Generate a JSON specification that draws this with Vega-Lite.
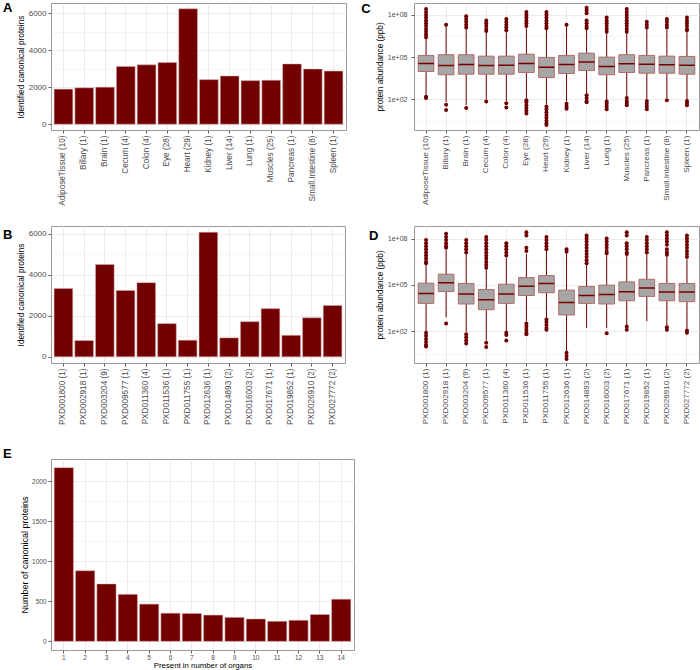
{
  "$schema": "https://vega.github.io/schema/vega-lite/v6.json",
  "padding": {"left": 2, "top": 1, "right": 0, "bottom": 0},
  "background": "white",
  "columns": 2,
  "align": "each",
  "bounds": "flush",
  "spacing": {"row": 96, "column": 60},
  "datasets": {
    "barA": [
      {"tissue": "AdiposeTissue (10)", "proteins": 1900},
      {"tissue": "Billary (1)", "proteins": 1970},
      {"tissue": "Brain (1)", "proteins": 2005},
      {"tissue": "Cecum (4)", "proteins": 3125},
      {"tissue": "Colon (4)", "proteins": 3215},
      {"tissue": "Eye (28)", "proteins": 3335},
      {"tissue": "Heart (29)", "proteins": 6250},
      {"tissue": "Kidney (1)", "proteins": 2415},
      {"tissue": "Liver (14)", "proteins": 2610},
      {"tissue": "Lung (1)", "proteins": 2360},
      {"tissue": "Muscles (25)", "proteins": 2380},
      {"tissue": "Pancreas (1)", "proteins": 3265},
      {"tissue": "Small.Intestine (8)", "proteins": 2985},
      {"tissue": "Spleen (1)", "proteins": 2875}
    ],
    "barB": [
      {"dataset": "PXD001800 (1)", "proteins": 3325},
      {"dataset": "PXD002918 (1)", "proteins": 790},
      {"dataset": "PXD003204 (9)", "proteins": 4495},
      {"dataset": "PXD009577 (1)", "proteins": 3230},
      {"dataset": "PXD011360 (4)", "proteins": 3610},
      {"dataset": "PXD011536 (1)", "proteins": 1615},
      {"dataset": "PXD011755 (1)", "proteins": 810},
      {"dataset": "PXD012636 (1)", "proteins": 6065},
      {"dataset": "PXD014893 (2)", "proteins": 920},
      {"dataset": "PXD016003 (2)", "proteins": 1710},
      {"dataset": "PXD017671 (1)", "proteins": 2345},
      {"dataset": "PXD019852 (1)", "proteins": 1045},
      {"dataset": "PXD026910 (2)", "proteins": 1900},
      {"dataset": "PXD027772 (2)", "proteins": 2500}
    ],
    "barE": [
      {"organs": 1, "proteins": 2170},
      {"organs": 2, "proteins": 882},
      {"organs": 3, "proteins": 717},
      {"organs": 4, "proteins": 587},
      {"organs": 5, "proteins": 465},
      {"organs": 6, "proteins": 352},
      {"organs": 7, "proteins": 348},
      {"organs": 8, "proteins": 328},
      {"organs": 9, "proteins": 299},
      {"organs": 10, "proteins": 279},
      {"organs": 11, "proteins": 250},
      {"organs": 12, "proteins": 262},
      {"organs": 13, "proteins": 335},
      {"organs": 14, "proteins": 526}
    ],
    "boxC": [
      {"tissue": "AdiposeTissue (10)", "lower": 214, "q1": 9550, "median": 35500, "q3": 132000, "upper": 2000000},
      {"tissue": "Billary (1)", "lower": 65, "q1": 5620, "median": 25700, "q3": 148000, "upper": 15800000},
      {"tissue": "Brain (1)", "lower": 39.8, "q1": 6170, "median": 30200, "q3": 148000, "upper": 10000000},
      {"tissue": "Cecum (4)", "lower": 100, "q1": 6170, "median": 25700, "q3": 117000, "upper": 5620000},
      {"tissue": "Colon (4)", "lower": 79.4, "q1": 6170, "median": 26900, "q3": 117000, "upper": 6310000},
      {"tissue": "Eye (28)", "lower": 126, "q1": 8130, "median": 35500, "q3": 162000, "upper": 11200000},
      {"tissue": "Heart (29)", "lower": 44.7, "q1": 3630, "median": 19500, "q3": 95500, "upper": 8910000},
      {"tissue": "Kidney (1)", "lower": 70.8, "q1": 6920, "median": 30200, "q3": 132000, "upper": 15800000},
      {"tissue": "Liver (14)", "lower": 251, "q1": 11200, "median": 44700, "q3": 191000, "upper": 8910000},
      {"tissue": "Lung (1)", "lower": 89.1, "q1": 5620, "median": 21900, "q3": 100000, "upper": 5010000},
      {"tissue": "Muscles (25)", "lower": 158, "q1": 8130, "median": 33900, "q3": 148000, "upper": 5010000},
      {"tissue": "Pancreas (1)", "lower": 110, "q1": 7240, "median": 31600, "q3": 132000, "upper": 10000000},
      {"tissue": "Small.Intestine (8)", "lower": 126, "q1": 7240, "median": 28800, "q3": 117000, "upper": 8910000},
      {"tissue": "Spleen (1)", "lower": 100, "q1": 6170, "median": 26900, "q3": 112000, "upper": 6310000}
    ],
    "outC": [
      {"tissue": "AdiposeTissue (10)", "ppb": 2.51e8}, {"tissue": "AdiposeTissue (10)", "ppb": 1.58e8}, {"tissue": "AdiposeTissue (10)", "ppb": 1.0e8}, {"tissue": "AdiposeTissue (10)", "ppb": 6.31e7}, {"tissue": "AdiposeTissue (10)", "ppb": 3.98e7}, {"tissue": "AdiposeTissue (10)", "ppb": 2.51e7}, {"tissue": "AdiposeTissue (10)", "ppb": 1.58e7}, {"tissue": "AdiposeTissue (10)", "ppb": 1.0e7}, {"tissue": "AdiposeTissue (10)", "ppb": 6.31e6}, {"tissue": "AdiposeTissue (10)", "ppb": 3.98e6}, {"tissue": "AdiposeTissue (10)", "ppb": 2.51e6}, {"tissue": "AdiposeTissue (10)", "ppb": 158}, {"tissue": "AdiposeTissue (10)", "ppb": 126},
      {"tissue": "Billary (1)", "ppb": 2.0e7}, {"tissue": "Billary (1)", "ppb": 41.7}, {"tissue": "Billary (1)", "ppb": 18.2},
      {"tissue": "Brain (1)", "ppb": 7.94e7}, {"tissue": "Brain (1)", "ppb": 5.01e7}, {"tissue": "Brain (1)", "ppb": 3.16e7}, {"tissue": "Brain (1)", "ppb": 2.0e7}, {"tissue": "Brain (1)", "ppb": 1.26e7}, {"tissue": "Brain (1)", "ppb": 25.1},
      {"tissue": "Cecum (4)", "ppb": 3.98e7}, {"tissue": "Cecum (4)", "ppb": 2.51e7}, {"tissue": "Cecum (4)", "ppb": 1.58e7}, {"tissue": "Cecum (4)", "ppb": 1.0e7}, {"tissue": "Cecum (4)", "ppb": 7.08e6}, {"tissue": "Cecum (4)", "ppb": 70.8},
      {"tissue": "Colon (4)", "ppb": 5.01e7}, {"tissue": "Colon (4)", "ppb": 3.16e7}, {"tissue": "Colon (4)", "ppb": 2.0e7}, {"tissue": "Colon (4)", "ppb": 1.26e7}, {"tissue": "Colon (4)", "ppb": 7.94e6}, {"tissue": "Colon (4)", "ppb": 55}, {"tissue": "Colon (4)", "ppb": 26.9},
      {"tissue": "Eye (28)", "ppb": 1.58e8}, {"tissue": "Eye (28)", "ppb": 1.0e8}, {"tissue": "Eye (28)", "ppb": 6.31e7}, {"tissue": "Eye (28)", "ppb": 3.98e7}, {"tissue": "Eye (28)", "ppb": 2.51e7}, {"tissue": "Eye (28)", "ppb": 1.58e7}, {"tissue": "Eye (28)", "ppb": 89.1}, {"tissue": "Eye (28)", "ppb": 63.1}, {"tissue": "Eye (28)", "ppb": 39.8}, {"tissue": "Eye (28)", "ppb": 25.1}, {"tissue": "Eye (28)", "ppb": 15.8}, {"tissue": "Eye (28)", "ppb": 10},
      {"tissue": "Heart (29)", "ppb": 1.58e8}, {"tissue": "Heart (29)", "ppb": 1.0e8}, {"tissue": "Heart (29)", "ppb": 6.31e7}, {"tissue": "Heart (29)", "ppb": 3.98e7}, {"tissue": "Heart (29)", "ppb": 2.51e7}, {"tissue": "Heart (29)", "ppb": 1.58e7}, {"tissue": "Heart (29)", "ppb": 1.12e7}, {"tissue": "Heart (29)", "ppb": 31.6}, {"tissue": "Heart (29)", "ppb": 20}, {"tissue": "Heart (29)", "ppb": 12.6}, {"tissue": "Heart (29)", "ppb": 7.94}, {"tissue": "Heart (29)", "ppb": 5.01}, {"tissue": "Heart (29)", "ppb": 3.16}, {"tissue": "Heart (29)", "ppb": 2.0}, {"tissue": "Heart (29)", "ppb": 1.58},
      {"tissue": "Kidney (1)", "ppb": 2.0e7}, {"tissue": "Kidney (1)", "ppb": 50.1}, {"tissue": "Kidney (1)", "ppb": 31.6}, {"tissue": "Kidney (1)", "ppb": 22.4},
      {"tissue": "Liver (14)", "ppb": 3.16e8}, {"tissue": "Liver (14)", "ppb": 2.0e8}, {"tissue": "Liver (14)", "ppb": 1.26e8}, {"tissue": "Liver (14)", "ppb": 3.98e7}, {"tissue": "Liver (14)", "ppb": 2.51e7}, {"tissue": "Liver (14)", "ppb": 1.58e7}, {"tissue": "Liver (14)", "ppb": 1.12e7}, {"tissue": "Liver (14)", "ppb": 200}, {"tissue": "Liver (14)", "ppb": 126}, {"tissue": "Liver (14)", "ppb": 79.4}, {"tissue": "Liver (14)", "ppb": 63.1},
      {"tissue": "Lung (1)", "ppb": 6.31e7}, {"tissue": "Lung (1)", "ppb": 3.98e7}, {"tissue": "Lung (1)", "ppb": 2.51e7}, {"tissue": "Lung (1)", "ppb": 1.58e7}, {"tissue": "Lung (1)", "ppb": 1.0e7}, {"tissue": "Lung (1)", "ppb": 6.31e6}, {"tissue": "Lung (1)", "ppb": 70.8}, {"tissue": "Lung (1)", "ppb": 50.1}, {"tissue": "Lung (1)", "ppb": 31.6}, {"tissue": "Lung (1)", "ppb": 20},
      {"tissue": "Muscles (25)", "ppb": 2.51e8}, {"tissue": "Muscles (25)", "ppb": 1.58e8}, {"tissue": "Muscles (25)", "ppb": 1.0e8}, {"tissue": "Muscles (25)", "ppb": 6.31e7}, {"tissue": "Muscles (25)", "ppb": 3.98e7}, {"tissue": "Muscles (25)", "ppb": 2.51e7}, {"tissue": "Muscles (25)", "ppb": 1.58e7}, {"tissue": "Muscles (25)", "ppb": 1.0e7}, {"tissue": "Muscles (25)", "ppb": 6.31e6}, {"tissue": "Muscles (25)", "ppb": 126}, {"tissue": "Muscles (25)", "ppb": 79.4}, {"tissue": "Muscles (25)", "ppb": 56.2}, {"tissue": "Muscles (25)", "ppb": 39.8},
      {"tissue": "Pancreas (1)", "ppb": 3.16e7}, {"tissue": "Pancreas (1)", "ppb": 2.0e7}, {"tissue": "Pancreas (1)", "ppb": 1.26e7}, {"tissue": "Pancreas (1)", "ppb": 79.4}, {"tissue": "Pancreas (1)", "ppb": 50.1}, {"tissue": "Pancreas (1)", "ppb": 31.6}, {"tissue": "Pancreas (1)", "ppb": 20},
      {"tissue": "Small.Intestine (8)", "ppb": 5.01e7}, {"tissue": "Small.Intestine (8)", "ppb": 3.16e7}, {"tissue": "Small.Intestine (8)", "ppb": 2.0e7}, {"tissue": "Small.Intestine (8)", "ppb": 1.26e7}, {"tissue": "Small.Intestine (8)", "ppb": 89.1},
      {"tissue": "Spleen (1)", "ppb": 6.31e7}, {"tissue": "Spleen (1)", "ppb": 3.98e7}, {"tissue": "Spleen (1)", "ppb": 2.51e7}, {"tissue": "Spleen (1)", "ppb": 1.58e7}, {"tissue": "Spleen (1)", "ppb": 1.0e7}, {"tissue": "Spleen (1)", "ppb": 7.94e6}, {"tissue": "Spleen (1)", "ppb": 79.4}, {"tissue": "Spleen (1)", "ppb": 56.2}, {"tissue": "Spleen (1)", "ppb": 39.8}
    ],
    "boxD": [
      {"dataset": "PXD001800 (1)", "lower": 100, "q1": 6310, "median": 27500, "q3": 129000, "upper": 2000000},
      {"dataset": "PXD002918 (1)", "lower": 794, "q1": 37200, "median": 135000, "q3": 490000, "upper": 17800000},
      {"dataset": "PXD003204 (9)", "lower": 89.1, "q1": 5750, "median": 25100, "q3": 123000, "upper": 9330000},
      {"dataset": "PXD009577 (1)", "lower": 25.1, "q1": 2450, "median": 11000, "q3": 50100, "upper": 1000000},
      {"dataset": "PXD011360 (4)", "lower": 100, "q1": 6310, "median": 25100, "q3": 110000, "upper": 5750000},
      {"dataset": "PXD011536 (1)", "lower": 437, "q1": 20400, "median": 81300, "q3": 295000, "upper": 10000000},
      {"dataset": "PXD011755 (1)", "lower": 724, "q1": 30900, "median": 123000, "q3": 398000, "upper": 15500000},
      {"dataset": "PXD012636 (1)", "lower": 5.13, "q1": 1120, "median": 7240, "q3": 45700, "upper": 10000000},
      {"dataset": "PXD014893 (2)", "lower": 162, "q1": 6310, "median": 20400, "q3": 77600, "upper": 2000000},
      {"dataset": "PXD016003 (2)", "lower": 162, "q1": 5750, "median": 24000, "q3": 95500, "upper": 8510000},
      {"dataset": "PXD017671 (1)", "lower": 245, "q1": 9330, "median": 35500, "q3": 155000, "upper": 8510000},
      {"dataset": "PXD019852 (1)", "lower": 437, "q1": 17800, "median": 61700, "q3": 229000, "upper": 9330000},
      {"dataset": "PXD026910 (2)", "lower": 209, "q1": 9330, "median": 33900, "q3": 123000, "upper": 7080000},
      {"dataset": "PXD027772 (2)", "lower": 148, "q1": 8130, "median": 33900, "q3": 123000, "upper": 4470000}
    ],
    "outD": [
      {"dataset": "PXD001800 (1)", "ppb": 7.94e7}, {"dataset": "PXD001800 (1)", "ppb": 5.01e7}, {"dataset": "PXD001800 (1)", "ppb": 3.16e7}, {"dataset": "PXD001800 (1)", "ppb": 2.0e7}, {"dataset": "PXD001800 (1)", "ppb": 1.26e7}, {"dataset": "PXD001800 (1)", "ppb": 7.94e6}, {"dataset": "PXD001800 (1)", "ppb": 5.01e6}, {"dataset": "PXD001800 (1)", "ppb": 3.16e6}, {"dataset": "PXD001800 (1)", "ppb": 2.51e6}, {"dataset": "PXD001800 (1)", "ppb": 79.4}, {"dataset": "PXD001800 (1)", "ppb": 50.1}, {"dataset": "PXD001800 (1)", "ppb": 31.6}, {"dataset": "PXD001800 (1)", "ppb": 20}, {"dataset": "PXD001800 (1)", "ppb": 12.6}, {"dataset": "PXD001800 (1)", "ppb": 10},
      {"dataset": "PXD002918 (1)", "ppb": 2.0e8}, {"dataset": "PXD002918 (1)", "ppb": 1.26e8}, {"dataset": "PXD002918 (1)", "ppb": 7.94e7}, {"dataset": "PXD002918 (1)", "ppb": 5.01e7}, {"dataset": "PXD002918 (1)", "ppb": 3.16e7}, {"dataset": "PXD002918 (1)", "ppb": 2.51e7}, {"dataset": "PXD002918 (1)", "ppb": 316},
      {"dataset": "PXD003204 (9)", "ppb": 7.94e7}, {"dataset": "PXD003204 (9)", "ppb": 5.01e7}, {"dataset": "PXD003204 (9)", "ppb": 3.16e7}, {"dataset": "PXD003204 (9)", "ppb": 2.0e7}, {"dataset": "PXD003204 (9)", "ppb": 1.26e7}, {"dataset": "PXD003204 (9)", "ppb": 63.1}, {"dataset": "PXD003204 (9)", "ppb": 39.8}, {"dataset": "PXD003204 (9)", "ppb": 25.1}, {"dataset": "PXD003204 (9)", "ppb": 15.8},
      {"dataset": "PXD009577 (1)", "ppb": 1.26e8}, {"dataset": "PXD009577 (1)", "ppb": 7.94e7}, {"dataset": "PXD009577 (1)", "ppb": 5.01e7}, {"dataset": "PXD009577 (1)", "ppb": 3.16e7}, {"dataset": "PXD009577 (1)", "ppb": 2.0e7}, {"dataset": "PXD009577 (1)", "ppb": 1.26e7}, {"dataset": "PXD009577 (1)", "ppb": 7.94e6}, {"dataset": "PXD009577 (1)", "ppb": 5.01e6}, {"dataset": "PXD009577 (1)", "ppb": 3.16e6}, {"dataset": "PXD009577 (1)", "ppb": 2.0e6}, {"dataset": "PXD009577 (1)", "ppb": 1.26e6}, {"dataset": "PXD009577 (1)", "ppb": 17.8}, {"dataset": "PXD009577 (1)", "ppb": 9.33},
      {"dataset": "PXD011360 (4)", "ppb": 5.01e7}, {"dataset": "PXD011360 (4)", "ppb": 3.16e7}, {"dataset": "PXD011360 (4)", "ppb": 2.0e7}, {"dataset": "PXD011360 (4)", "ppb": 1.26e7}, {"dataset": "PXD011360 (4)", "ppb": 7.94e6}, {"dataset": "PXD011360 (4)", "ppb": 79.4}, {"dataset": "PXD011360 (4)", "ppb": 56.2}, {"dataset": "PXD011360 (4)", "ppb": 25.1},
      {"dataset": "PXD011536 (1)", "ppb": 2.51e8}, {"dataset": "PXD011536 (1)", "ppb": 1.58e8}, {"dataset": "PXD011536 (1)", "ppb": 2.51e7}, {"dataset": "PXD011536 (1)", "ppb": 1.58e7}, {"dataset": "PXD011536 (1)", "ppb": 316}, {"dataset": "PXD011536 (1)", "ppb": 200}, {"dataset": "PXD011536 (1)", "ppb": 126}, {"dataset": "PXD011536 (1)", "ppb": 79.4}, {"dataset": "PXD011536 (1)", "ppb": 63.1},
      {"dataset": "PXD011755 (1)", "ppb": 1.26e8}, {"dataset": "PXD011755 (1)", "ppb": 7.94e7}, {"dataset": "PXD011755 (1)", "ppb": 5.01e7}, {"dataset": "PXD011755 (1)", "ppb": 3.16e7}, {"dataset": "PXD011755 (1)", "ppb": 2.0e7}, {"dataset": "PXD011755 (1)", "ppb": 562}, {"dataset": "PXD011755 (1)", "ppb": 398}, {"dataset": "PXD011755 (1)", "ppb": 251}, {"dataset": "PXD011755 (1)", "ppb": 158}, {"dataset": "PXD011755 (1)", "ppb": 126},
      {"dataset": "PXD012636 (1)", "ppb": 2.0e7}, {"dataset": "PXD012636 (1)", "ppb": 1.41e7}, {"dataset": "PXD012636 (1)", "ppb": 3.98}, {"dataset": "PXD012636 (1)", "ppb": 2.51}, {"dataset": "PXD012636 (1)", "ppb": 1.58},
      {"dataset": "PXD014893 (2)", "ppb": 1.58e8}, {"dataset": "PXD014893 (2)", "ppb": 1.0e8}, {"dataset": "PXD014893 (2)", "ppb": 6.31e7}, {"dataset": "PXD014893 (2)", "ppb": 3.98e7}, {"dataset": "PXD014893 (2)", "ppb": 2.51e7}, {"dataset": "PXD014893 (2)", "ppb": 1.58e7}, {"dataset": "PXD014893 (2)", "ppb": 1.0e7}, {"dataset": "PXD014893 (2)", "ppb": 6.31e6}, {"dataset": "PXD014893 (2)", "ppb": 3.98e6}, {"dataset": "PXD014893 (2)", "ppb": 2.51e6},
      {"dataset": "PXD016003 (2)", "ppb": 1.0e8}, {"dataset": "PXD016003 (2)", "ppb": 6.31e7}, {"dataset": "PXD016003 (2)", "ppb": 3.98e7}, {"dataset": "PXD016003 (2)", "ppb": 2.51e7}, {"dataset": "PXD016003 (2)", "ppb": 1.58e7}, {"dataset": "PXD016003 (2)", "ppb": 1.12e7}, {"dataset": "PXD016003 (2)", "ppb": 74.1},
      {"dataset": "PXD017671 (1)", "ppb": 2.51e8}, {"dataset": "PXD017671 (1)", "ppb": 1.58e8}, {"dataset": "PXD017671 (1)", "ppb": 5.01e7}, {"dataset": "PXD017671 (1)", "ppb": 3.16e7}, {"dataset": "PXD017671 (1)", "ppb": 2.0e7}, {"dataset": "PXD017671 (1)", "ppb": 1.26e7}, {"dataset": "PXD017671 (1)", "ppb": 1.0e7}, {"dataset": "PXD017671 (1)", "ppb": 200}, {"dataset": "PXD017671 (1)", "ppb": 126},
      {"dataset": "PXD019852 (1)", "ppb": 1.26e8}, {"dataset": "PXD019852 (1)", "ppb": 7.94e7}, {"dataset": "PXD019852 (1)", "ppb": 5.01e7}, {"dataset": "PXD019852 (1)", "ppb": 3.16e7}, {"dataset": "PXD019852 (1)", "ppb": 2.0e7}, {"dataset": "PXD019852 (1)", "ppb": 1.26e7},
      {"dataset": "PXD026910 (2)", "ppb": 2.51e8}, {"dataset": "PXD026910 (2)", "ppb": 1.58e8}, {"dataset": "PXD026910 (2)", "ppb": 1.0e8}, {"dataset": "PXD026910 (2)", "ppb": 6.31e7}, {"dataset": "PXD026910 (2)", "ppb": 3.98e7}, {"dataset": "PXD026910 (2)", "ppb": 2.0e7}, {"dataset": "PXD026910 (2)", "ppb": 1.26e7}, {"dataset": "PXD026910 (2)", "ppb": 8.91e6}, {"dataset": "PXD026910 (2)", "ppb": 178}, {"dataset": "PXD026910 (2)", "ppb": 126},
      {"dataset": "PXD027772 (2)", "ppb": 1.58e8}, {"dataset": "PXD027772 (2)", "ppb": 1.0e8}, {"dataset": "PXD027772 (2)", "ppb": 6.31e7}, {"dataset": "PXD027772 (2)", "ppb": 3.98e7}, {"dataset": "PXD027772 (2)", "ppb": 2.51e7}, {"dataset": "PXD027772 (2)", "ppb": 1.58e7}, {"dataset": "PXD027772 (2)", "ppb": 1.0e7}, {"dataset": "PXD027772 (2)", "ppb": 6.31e6}, {"dataset": "PXD027772 (2)", "ppb": 112}, {"dataset": "PXD027772 (2)", "ppb": 79.4}
    ]
  },
  "concat": [
    {
      "width": 295, "height": 127,
      "title": {"text": "A", "dx": -48, "dy": 16},
      "data": {"name": "barA"},
      "mark": {"type": "bar", "fill": "#730000", "stroke": "#d8b0b0", "strokeWidth": 0.5},
      "encoding": {
        "x": {"field": "tissue", "type": "nominal", "scale": {"paddingInner": 0.1, "paddingOuter": 0.15},
              "axis": {"title": null, "labelAngle": 270, "labelAlign": "right", "labelBaseline": "middle", "labelFontSize": 8.2, "bandPosition": 0.5, "gridWidth": 1}},
        "y": {"field": "proteins", "type": "quantitative", "scale": {"domain": [-312.5, 6562.5], "nice": false, "zero": false},
              "axis": {"title": "Identified canonical proteins", "values": [0, 1000, 2000, 3000, 4000, 5000, 6000], "format": "d",
                       "labelExpr": "datum.value % 2000 == 0 ? datum.label : ''",
                       "tickOpacity": {"condition": {"test": "datum.value % 2000 != 0", "value": 0}, "value": 1},
                       "gridWidth": {"condition": {"test": "datum.value % 2000 != 0", "value": 0.5}, "value": 1},
                       "labelFontSize": 8, "titleFontSize": 8.3, "titlePadding": 3}},
        "y2": {"datum": 0}
      }
    },
    {
      "width": 285, "height": 127,
      "title": {"text": "C", "dx": -52.7, "dy": 17.3},
      "layer": [
        {
          "data": {"name": "boxC"},
          "mark": {"type": "rule", "color": "#6e0000", "strokeWidth": 1},
          "encoding": {
            "x": {"field": "tissue", "type": "nominal", "scale": {"paddingInner": 0, "paddingOuter": 0.1},
                  "axis": {"title": null, "labelAngle": 270, "labelAlign": "right", "labelBaseline": "middle", "labelFontSize": 8.1, "bandPosition": 0.5, "gridWidth": 1}},
            "y": {"field": "lower", "type": "quantitative", "scale": {"type": "log", "domain": [0.69, 6.8e8], "nice": false},
                  "axis": {"title": "protein abundance (ppb)", "values": [3.1623, 100, 3162.3, 100000, 3162278, 100000000],
                           "labelExpr": "datum.value == 100 ? '1e+02' : datum.value == 100000 ? '1e+05' : datum.value == 100000000 ? '1e+08' : ''",
                           "tickOpacity": {"condition": {"test": "indexof([100, 100000, 100000000], datum.value) < 0", "value": 0}, "value": 1},
                           "gridWidth": {"condition": {"test": "indexof([100, 100000, 100000000], datum.value) < 0", "value": 0.5}, "value": 1},
                           "labelFontSize": 7, "titleFontSize": 8.2, "titlePadding": 3, "labelPadding": 4}},
            "y2": {"field": "upper"}
          }
        },
        {
          "data": {"name": "boxC"},
          "mark": {"type": "bar", "width": {"band": 0.78}, "fill": "#a6a6a6", "stroke": "#b26a6a", "strokeWidth": 1},
          "encoding": {
            "x": {"field": "tissue", "type": "nominal"},
            "y": {"field": "q1", "type": "quantitative"},
            "y2": {"field": "q3"}
          }
        },
        {
          "data": {"name": "boxC"},
          "mark": {"type": "bar", "width": {"band": 0.78}, "fill": "#7a0000", "stroke": "#7a0000", "strokeWidth": 1.5},
          "encoding": {
            "x": {"field": "tissue", "type": "nominal"},
            "y": {"field": "median", "type": "quantitative"},
            "y2": {"field": "median"}
          }
        },
        {
          "data": {"name": "outC"},
          "mark": {"type": "circle", "size": 16, "color": "#6e0000", "opacity": 1},
          "encoding": {
            "x": {"field": "tissue", "type": "nominal"},
            "y": {"field": "ppb", "type": "quantitative"}
          }
        }
      ]
    },
    {
      "width": 294, "height": 137,
      "title": {"text": "B", "dx": -48, "dy": 20},
      "data": {"name": "barB"},
      "mark": {"type": "bar", "fill": "#730000", "stroke": "#d8b0b0", "strokeWidth": 0.5},
      "encoding": {
        "x": {"field": "dataset", "type": "nominal", "scale": {"paddingInner": 0.1, "paddingOuter": 0.15},
              "axis": {"title": null, "labelAngle": 270, "labelAlign": "right", "labelBaseline": "middle", "labelFontSize": 8.2, "bandPosition": 0.5, "gridWidth": 1}},
        "y": {"field": "proteins", "type": "quantitative", "scale": {"domain": [-303, 6368], "nice": false, "zero": false},
              "axis": {"title": "Identified canonical proteins", "values": [0, 1000, 2000, 3000, 4000, 5000, 6000], "format": "d",
                       "labelExpr": "datum.value % 2000 == 0 ? datum.label : ''",
                       "tickOpacity": {"condition": {"test": "datum.value % 2000 != 0", "value": 0}, "value": 1},
                       "gridWidth": {"condition": {"test": "datum.value % 2000 != 0", "value": 0.5}, "value": 1},
                       "labelFontSize": 8, "titleFontSize": 8.3, "titlePadding": 3}},
        "y2": {"datum": 0}
      }
    },
    {
      "width": 285, "height": 137,
      "title": {"text": "D", "dx": -45, "dy": 21},
      "layer": [
        {
          "data": {"name": "boxD"},
          "mark": {"type": "rule", "color": "#6e0000", "strokeWidth": 1},
          "encoding": {
            "x": {"field": "dataset", "type": "nominal", "scale": {"paddingInner": 0, "paddingOuter": 0.1},
                  "axis": {"title": null, "labelAngle": 270, "labelAlign": "right", "labelBaseline": "middle", "labelFontSize": 8.1, "bandPosition": 0.5, "gridWidth": 1}},
            "y": {"field": "lower", "type": "quantitative", "scale": {"type": "log", "domain": [0.87, 6.46e8], "nice": false},
                  "axis": {"title": "protein abundance (ppb)", "values": [3.1623, 100, 3162.3, 100000, 3162278, 100000000],
                           "labelExpr": "datum.value == 100 ? '1e+02' : datum.value == 100000 ? '1e+05' : datum.value == 100000000 ? '1e+08' : ''",
                           "tickOpacity": {"condition": {"test": "indexof([100, 100000, 100000000], datum.value) < 0", "value": 0}, "value": 1},
                           "gridWidth": {"condition": {"test": "indexof([100, 100000, 100000000], datum.value) < 0", "value": 0.5}, "value": 1},
                           "labelFontSize": 7, "titleFontSize": 8.2, "titlePadding": 3, "labelPadding": 4}},
            "y2": {"field": "upper"}
          }
        },
        {
          "data": {"name": "boxD"},
          "mark": {"type": "bar", "width": {"band": 0.78}, "fill": "#a6a6a6", "stroke": "#b26a6a", "strokeWidth": 1},
          "encoding": {
            "x": {"field": "dataset", "type": "nominal"},
            "y": {"field": "q1", "type": "quantitative"},
            "y2": {"field": "q3"}
          }
        },
        {
          "data": {"name": "boxD"},
          "mark": {"type": "bar", "width": {"band": 0.78}, "fill": "#7a0000", "stroke": "#7a0000", "strokeWidth": 1.5},
          "encoding": {
            "x": {"field": "dataset", "type": "nominal"},
            "y": {"field": "median", "type": "quantitative"},
            "y2": {"field": "median"}
          }
        },
        {
          "data": {"name": "outD"},
          "mark": {"type": "circle", "size": 16, "color": "#6e0000", "opacity": 1},
          "encoding": {
            "x": {"field": "dataset", "type": "nominal"},
            "y": {"field": "ppb", "type": "quantitative"}
          }
        }
      ]
    },
    {
      "width": 303, "height": 191,
      "title": {"text": "E", "dx": -48, "dy": 6},
      "data": {"name": "barE"},
      "mark": {"type": "bar", "fill": "#730000", "stroke": "#d8b0b0", "strokeWidth": 0.5},
      "encoding": {
        "x": {"field": "organs", "type": "ordinal", "scale": {"paddingInner": 0.1, "paddingOuter": 0.15},
              "axis": {"title": "Present in number of organs", "labelAngle": 0, "labelFontSize": 6.5, "titleFontSize": 7.8, "titlePadding": 1, "labelPadding": 1, "bandPosition": 0.5, "gridWidth": 1}},
        "y": {"field": "proteins", "type": "quantitative", "scale": {"domain": [-108.5, 2278.5], "nice": false, "zero": false},
              "axis": {"title": "Number of canonical proteins", "values": [0, 250, 500, 750, 1000, 1250, 1500, 1750, 2000], "format": "d",
                       "labelExpr": "datum.value % 500 == 0 ? datum.label : ''",
                       "tickOpacity": {"condition": {"test": "datum.value % 500 != 0", "value": 0}, "value": 1},
                       "gridWidth": {"condition": {"test": "datum.value % 500 != 0", "value": 0.5}, "value": 1},
                       "labelFontSize": 6.5, "titleFontSize": 9, "titlePadding": 2}},
        "y2": {"datum": 0}
      }
    }
  ],
  "config": {
    "font": "Liberation Sans",
    "view": {"stroke": "#9a9a9a", "strokeWidth": 1},
    "axis": {"domain": false, "grid": true, "gridColor": "#ebebeb", "tickColor": "#333333", "tickSize": 3, "tickWidth": 0.8,
             "labelColor": "#4d4d4d", "titleColor": "#000000", "titleFontWeight": "normal", "labelPadding": 2,
             "labelFont": "Liberation Sans", "titleFont": "Liberation Sans"},
    "title": {"font": "Liberation Sans", "fontWeight": "bold", "fontSize": 13, "anchor": "start", "frame": "group", "offset": 0, "baseline": "alphabetic", "color": "#000000"}
  }
}
